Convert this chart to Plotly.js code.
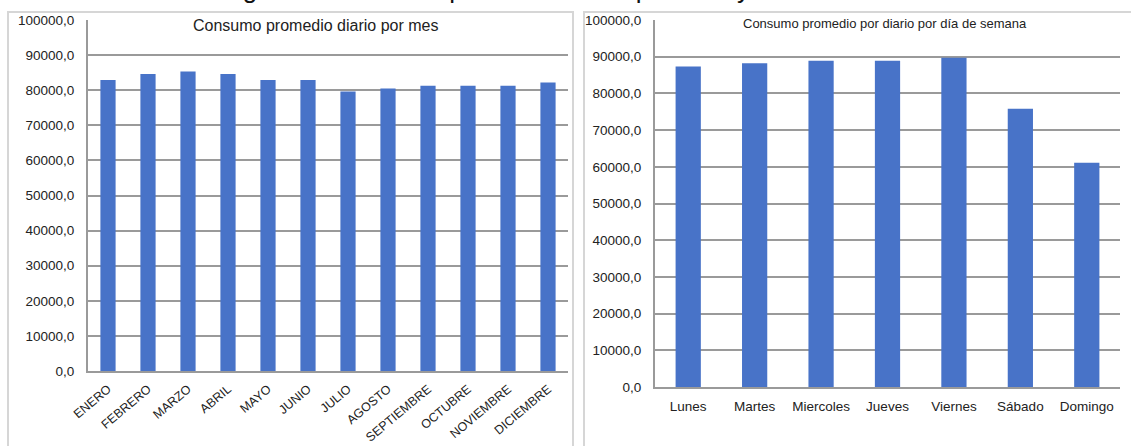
<!DOCTYPE html>
<html>
<head>
<meta charset="utf-8">
<script src="https://cdn.plot.ly/plotly-3.0.1.min.js"></script>
<style>html,body{margin:0;padding:0;background:#fff;}#chart{width:1131px;height:446px;}</style>
</head>
<body>
<div id="chart"></div>
<script>
const months = ["ENERO","FEBRERO","MARZO","ABRIL","MAYO","JUNIO","JULIO","AGOSTO","SEPTIEMBRE","OCTUBRE","NOVIEMBRE","DICIEMBRE"];
const monthValues = [82900, 84600, 85300, 84600, 82900, 82900, 79600, 80500, 81300, 81300, 81300, 82200];
const days = ["Lunes","Martes","Miercoles","Jueves","Viernes","Sábado","Domingo"];
const dayValues = [87300, 88200, 88900, 88900, 89700, 75800, 61100];
const yTicks = [0,10000,20000,30000,40000,50000,60000,70000,80000,90000,100000];

const W = 1131, H = 446;
const px = v => v / W;
const py = v => 1 - v / H;
const barColor = "#4873c8";
const gridColor = "#9a9a9a";
const font = "Liberation Sans, Arial, sans-serif";

const traces = [
  {type:"bar", x:months, y:monthValues, xaxis:"x", yaxis:"y",
   marker:{color:barColor, line:{width:0}}, hoverinfo:"x+y"},
  {type:"bar", x:days, y:dayValues, xaxis:"x2", yaxis:"y2",
   marker:{color:barColor, line:{width:0}}, hoverinfo:"x+y"}
];

const yCommon = {
  range:[0,100000], tickvals:yTicks, tickformat:".1f",
  showgrid:true, gridcolor:gridColor, gridwidth:2,
  showline:true, linecolor:gridColor, linewidth:2,
  zeroline:false, ticks:"", fixedrange:true,
  tickfont:{family:font, size:13.5, color:"#222"}, ticklabelstandoff:9
};

const layout = {
  width:W, height:H, margin:{l:0,r:0,t:0,b:0},
  paper_bgcolor:"#fff", plot_bgcolor:"#fff",
  showlegend:false, separators:", ",
  bargap:0.62,
  xaxis:{domain:[px(88),px(568)], anchor:"y", type:"category",
    showline:true, linecolor:gridColor, linewidth:2, ticks:"",
    tickangle:-40, tickfont:{family:font, size:12.5, color:"#222"}, fixedrange:true,
    ticklabelstandoff:4},
  yaxis:Object.assign({}, yCommon, {domain:[py(371), py(20)], anchor:"x"}),
  xaxis2:{domain:[px(655),px(1120)], anchor:"y2", type:"category",
    showline:true, linecolor:gridColor, linewidth:2, ticks:"",
    tickangle:0, tickfont:{family:font, size:13.5, color:"#222"}, fixedrange:true,
    ticklabelstandoff:6},
  yaxis2:Object.assign({}, yCommon, {domain:[py(387), py(20)], anchor:"x2"}),
  shapes:[
    {type:"rect", xref:"paper", yref:"paper", x0:px(8), x1:px(573), y0:-0.05, y1:py(12),
     line:{color:"#d6d6d6", width:2}, fillcolor:"rgba(0,0,0,0)", layer:"below"},
    {type:"rect", xref:"paper", yref:"paper", x0:px(584), x1:px(1140), y0:-0.05, y1:py(12),
     line:{color:"#d6d6d6", width:2}, fillcolor:"rgba(0,0,0,0)", layer:"below"}
  ],
  annotations:[
    {text:"Figura 1. Consumo promedio diario por mes y día de semana", xref:"paper", yref:"paper",
     x:px(575), y:1, xanchor:"center", yanchor:"bottom", yshift:-6, showarrow:false,
     font:{family:font, size:26, color:"#111"}},
    {text:"Consumo promedio diario por mes", xref:"paper", yref:"paper",
     x:px(315), y:py(25), xanchor:"center", yanchor:"middle", showarrow:false,
     bgcolor:"#fff", borderpad:1, font:{family:font, size:16, color:"#222"}},
    {text:"Consumo promedio por diario por día de semana", xref:"paper", yref:"paper",
     x:px(885), y:py(23), xanchor:"center", yanchor:"middle", showarrow:false,
     bgcolor:"#fff", borderpad:1, font:{family:font, size:13, color:"#222"}}
  ]
};

Plotly.newPlot("chart", traces, layout, {displayModeBar:false, staticPlot:true});
</script>
</body>
</html>
